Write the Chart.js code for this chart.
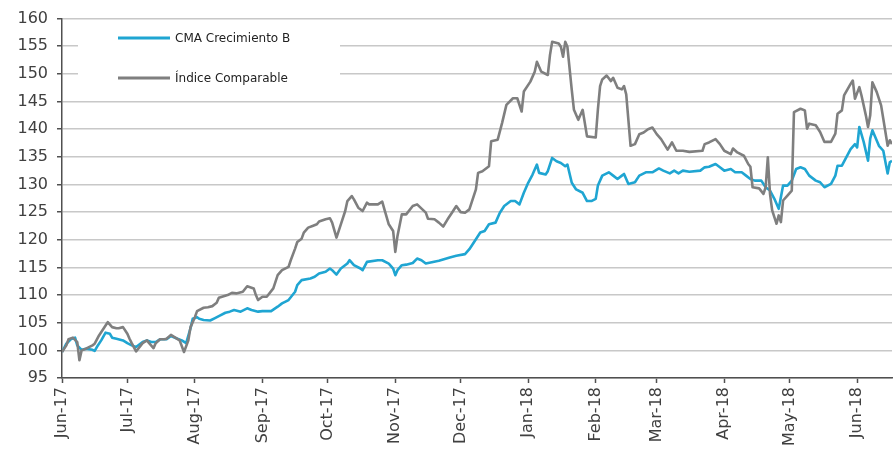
<!DOCTYPE html>
<html>
<head>
<meta charset="utf-8">
<script src="https://cdn.jsdelivr.net/npm/chart.js@4.4.1/dist/chart.umd.min.js"></script>
<style>
  html, body { margin: 0; padding: 0; background: #fff; }
  #wrap { width: 894px; height: 450px; }
</style>
</head>
<body>
<div id="wrap"><canvas id="chart" width="894" height="450"></canvas></div>
<script>
// x values are days counted from 1 Jun 2017
const monthTicks = [0, 30, 61, 92, 122, 153, 183, 214, 245, 273, 304, 334, 365];
const monthLabels = ["Jun-17", "Jul-17", "Aug-17", "Sep-17", "Oct-17", "Nov-17", "Dec-17",
  "Jan-18", "Feb-18", "Mar-18", "Apr-18", "May-18", "Jun-18"];
const lastDay = 381;

const seriesNames = ["CMA Crecimiento B", "Índice Comparable"];

const cmaDays = [0, 2, 4, 6, 7, 9, 11, 14, 15, 16, 18, 20, 22, 23, 25, 28, 30, 32, 34, 37, 39, 41, 43, 45, 48, 50, 53, 55, 57, 59, 60, 62, 63, 65, 68, 70, 72, 75, 77, 79,
  82, 85, 87, 90, 92, 96, 99, 101, 104, 107, 108, 110, 114, 116, 118, 121, 123, 124, 126, 128, 131, 132, 134, 137, 138, 140, 145, 147, 150, 152, 153, 154, 156, 158, 161, 163, 165, 167,
  173, 178, 181, 185, 187, 190, 192, 194, 196, 199, 201, 203, 206, 208, 210, 212, 214, 216, 218, 219, 222, 223, 225, 227, 229, 231, 232, 234, 236, 239, 241, 243,
  245, 246, 248, 251, 253, 255, 257, 258, 260, 263, 265, 268, 271, 274, 276, 279, 281, 283, 285, 288, 293, 295, 297, 300, 302, 304, 307, 309, 312, 314, 316,
  318, 321, 323, 325, 327, 329, 331, 333, 335, 337, 339, 341, 343, 346, 348, 350, 353, 355, 356, 358, 360, 362, 364, 365, 366, 368, 370, 371, 372, 375, 377, 379, 380, 381];
const cmaValues = [99.7, 101.2, 102, 102.3, 100.9, 100.1, 100.3, 100.1, 99.9, 100.6, 101.8, 103.2, 103, 102.3, 102.1, 101.8, 101.3, 100.9, 100.6, 101.5, 101.8, 101.5, 101.5, 102, 102, 102.6, 102.1, 101.8, 101.3, 104, 105.7, 106, 105.7, 105.5, 105.4, 105.8, 106.2, 106.8, 107, 107.3,
  107, 107.6, 107.3, 107, 107.1, 107.1, 107.9, 108.5, 109.1, 110.6, 111.8, 112.7, 113, 113.3, 113.9, 114.2, 114.8, 114.5, 113.7, 114.8, 115.7, 116.3, 115.4, 114.8, 114.5, 116, 116.3, 116.3, 115.7, 114.8, 113.6, 114.5, 115.4, 115.5, 115.8, 116.6, 116.3, 115.7,
  116.2, 116.8, 117.1, 117.4, 118.3, 120.1, 121.3, 121.6, 122.8, 123.1, 124.9, 126.1, 127, 127, 126.4, 128.5, 130.3, 131.8, 133.6, 132.1, 131.8, 132.4, 134.8, 134.2, 133.9, 133.3, 133.6, 130.3, 129.1, 128.5, 127, 127,
  127.4, 129.8, 131.6, 132.2, 131.6, 131, 131.6, 131.9, 130.1, 130.4, 131.6, 132.2, 132.2, 132.9, 132.5, 132, 132.5, 132, 132.5, 132.3, 132.5, 133.1, 133.2, 133.7, 133.1, 132.5, 132.8, 132.2, 132.2, 131.6, 131,
  130.7, 130.7, 129.5, 128.9, 127.4, 125.6, 129.8, 129.8, 130.7, 132.8, 133.1, 132.8, 131.6, 130.7, 130.4, 129.5, 130.1, 131.6, 133.4, 133.4, 134.9, 136.4, 137.3, 136.7, 140.4, 137.7, 134.3, 138.3, 139.8, 137, 136.1, 132, 134, 134.3];

const indiceDays = [0, 2, 3, 5, 7, 8, 9, 11, 14, 15, 17, 20, 21, 23, 25, 26, 28, 30, 31, 32, 34, 37, 39, 40, 42, 43, 45, 47, 48, 50, 52, 54, 56, 58, 59, 61, 62, 65, 67, 69, 71, 72, 76, 78,
  80, 83, 85, 88, 89, 90, 92, 94, 97, 99, 101, 104, 105, 107, 108, 110, 111, 113, 115, 117, 118, 121, 123, 124, 126, 128, 130, 131, 133, 134, 136, 138, 140, 141, 145, 147, 148, 150, 152, 153, 154, 156, 158, 161, 163,
  167, 168, 171, 173, 175, 177, 179, 181, 183, 185, 187, 190, 191, 193, 196, 197, 200, 202, 204, 207, 209, 211, 212, 215, 217, 218, 220, 223, 224, 225, 228, 229, 230, 231, 232, 234, 235, 237, 239, 241,
  245, 246, 247, 248, 250, 252, 253, 255, 257, 258, 259, 261, 263, 265, 267, 269, 271, 273, 275, 278, 280, 282, 285, 288, 294, 295, 297, 300, 302, 304, 307, 308, 310, 313, 315,
  316, 317, 320, 322, 323, 324, 325, 326, 327, 328, 329, 330, 331, 333, 335, 336, 339, 341, 342, 343, 346, 348, 350, 353, 355, 356, 358, 359, 362, 363, 364, 366, 367, 369, 370, 371, 372, 374, 376, 377, 379, 380, 381];
const indiceValues = [99.7, 100.9, 102, 102.3, 101.5, 98.2, 100, 100.3, 100.9, 101.2, 102.7, 104.5, 105.1, 104.2, 104, 104, 104.2, 103, 102.1, 101.3, 99.8, 101.3, 101.8, 101.3, 100.4, 101.3, 102, 102, 102.1, 102.8, 102.3, 101.8, 99.7, 101.8, 104.2, 106, 107.1, 107.7, 107.8, 108, 108.6, 109.5, 110, 110.4,
  110.3, 110.6, 111.6, 111.2, 110, 109.1, 109.7, 109.7, 111.2, 113.6, 114.5, 115.1, 116.3, 118.4, 119.6, 120.2, 121.3, 122.2, 122.5, 122.8, 123.3, 123.7, 123.9, 123.1, 120.4, 122.8, 125.2, 127, 127.9, 127.3, 125.8, 125.2, 126.7, 126.4, 126.4, 126.9, 125.5, 122.8, 121.6, 117.8, 120.7, 124.6, 124.6, 126.1, 126.4,
  124.9, 123.8, 123.7, 123.1, 122.4, 123.7, 124.9, 126.1, 125, 124.9, 125.5, 129.1, 132.1, 132.4, 133.3, 137.8, 138.1, 141.1, 144.4, 145.6, 145.6, 143.2, 146.8, 148.6, 150.4, 152.2, 150.4, 149.8, 153.4, 155.8, 155.5, 154.9, 153.1, 155.8, 154.9, 147.1, 143.5, 141.7, 143.5, 138.7,
  138.5, 143.6, 147.8, 149, 149.7, 148.7, 149.3, 147.5, 147.2, 147.8, 146.3, 137, 137.3, 139.1, 139.4, 140, 140.3, 139.1, 138.2, 136.3, 137.6, 136.1, 136.1, 135.9, 136.1, 137.3, 137.6, 138.2, 137.3, 136.1, 135.5, 136.5, 135.8, 135.2, 133.7,
  133.2, 129.5, 129.3, 128.3, 129.5, 134.9, 128.3, 125.3, 124.1, 122.9, 124.4, 123.2, 127.1, 128, 128.9, 143.1, 143.7, 143.4, 140.1, 141, 140.7, 139.5, 137.7, 137.7, 139.2, 142.8, 143.4, 146.1, 148.2, 148.8, 145.5, 147.6, 146.1, 142.5, 140.4, 142.5, 148.5, 146.7, 144.3, 141.9, 137, 138, 137.3];

const yTicks = { min: 95, max: 160, step: 5 };

const BLUE = "#1fa5d2";
const GREY = "#7f7f7f";
const AXIS = "#505050";
const FONT = "'DejaVu Sans', sans-serif";

function toPoints(days, values) {
  return days.map((d, i) => ({ x: d, y: values[i] }));
}

// white box behind the legend, then the legend itself
const legendBox = {
  id: "legendBox",
  beforeDatasetsDraw(chart) {
    const ctx = chart.ctx;
    ctx.save();
    ctx.fillStyle = "#ffffff";
    ctx.fillRect(78, 21, 262, 73);
    ctx.restore();
  },
  afterDraw(chart) {
    const ctx = chart.ctx;
    const rows = [
      { name: seriesNames[0], color: BLUE, y: 38 },
      { name: seriesNames[1], color: GREY, y: 78 }
    ];
    ctx.save();
    ctx.lineWidth = 3;
    ctx.font = "12px " + FONT;
    ctx.textBaseline = "middle";
    rows.forEach(r => {
      ctx.strokeStyle = r.color;
      ctx.beginPath();
      ctx.moveTo(118, r.y);
      ctx.lineTo(170, r.y);
      ctx.stroke();
      ctx.fillStyle = "#222";
      ctx.fillText(r.name, 175, r.y + 1);
    });
    ctx.restore();
  }
};

new Chart(document.getElementById("chart"), {
  type: "line",
  data: {
    datasets: [
      {
        label: seriesNames[1],
        data: toPoints(indiceDays, indiceValues),
        borderColor: GREY,
        borderWidth: 2.6,
        pointRadius: 0,
        tension: 0,
        borderJoinStyle: "round"
      },
      {
        label: seriesNames[0],
        data: toPoints(cmaDays, cmaValues),
        borderColor: BLUE,
        borderWidth: 2.6,
        pointRadius: 0,
        tension: 0,
        borderJoinStyle: "round"
      }
    ]
  },
  options: {
    responsive: false,
    animation: false,
    layout: { padding: { top: 15, right: 2, left: 0, bottom: 0 } },
    plugins: {
      legend: { display: false },
      tooltip: { enabled: false }
    },
    scales: {
      x: {
        type: "linear",
        min: 0,
        max: lastDay,
        afterBuildTicks: (scale) => {
          scale.ticks = monthTicks.map(v => ({ value: v }));
        },
        afterFit: (scale) => { scale.height = 72; },
        border: { color: AXIS, width: 1.5 },
        grid: { drawOnChartArea: false, drawTicks: true, tickLength: 5, tickColor: AXIS, tickWidth: 1.5 },
        ticks: {
          autoSkip: false,
          minRotation: 90,
          maxRotation: 90,
          padding: 4,
          color: "#404040",
          font: { family: FONT, size: 16 },
          callback: (v, i) => monthLabels[i]
        }
      },
      y: {
        min: yTicks.min,
        max: yTicks.max,
        afterFit: (scale) => { scale.width = 62; },
        border: { color: AXIS, width: 1.5 },
        grid: { color: "#c8c8c8", lineWidth: 1.5, drawTicks: true, tickLength: 5, tickColor: AXIS, tickWidth: 1.5 },
        ticks: {
          stepSize: yTicks.step,
          padding: 9,
          color: "#404040",
          font: { family: FONT, size: 16 }
        }
      }
    }
  },
  plugins: [legendBox]
});
</script>
</body>
</html>
